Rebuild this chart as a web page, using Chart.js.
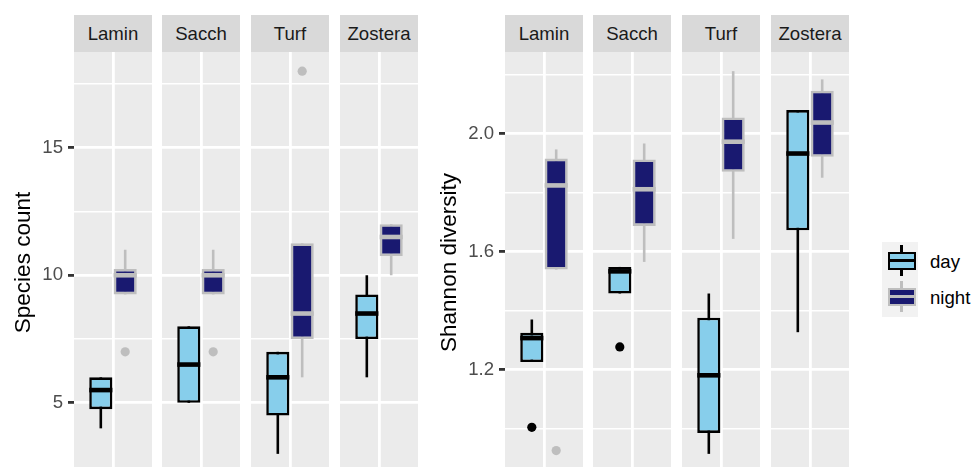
<!DOCTYPE html>
<html>
<head>
<meta charset="utf-8">
<script src="https://cdn.jsdelivr.net/npm/chart.js@4/dist/chart.umd.min.js"></script>
<style>
  html, body {
    margin: 0; padding: 0; background: #ffffff;
    width: 975px; height: 467px; overflow: hidden; position: relative;
    font-family: "Liberation Sans", Arial, sans-serif;
  }
  .strip {
    position: absolute; top: 15px; height: 37px; background: #D9D9D9;
    color: #1A1A1A; font-size: 18.6px; line-height: 37px; text-align: center;
  }
  canvas { position: absolute; top: 52px; }
  .legend-key { position: absolute; left: 882px; top: 242px; width: 36px; height: 75px; background: #F2F2F2; }
  .lg { position: absolute; box-sizing: border-box; }
  .legend-text { position: absolute; left: 930px; font-size: 18.6px; line-height: 18px; color: #000; white-space: nowrap; }
</style>
</head>
<body>
<script>
// Facet labels and fill groups
const sites = ['Lamin', 'Sacch', 'Turf', 'Zostera'];
const periods = ['day', 'night'];

// Box summaries per site: [lower whisker, Q1, median, Q3, upper whisker]
const countDay = [
  [4, 4.75, 5.5, 6, 6],
  [5, 5, 6.5, 8, 8],
  [3, 4.5, 6, 7, 7],
  [6, 7.5, 8.5, 9.25, 10]
];
const countNight = [
  [9.25, 9.25, 10, 10.25, 11],
  [9.25, 9.25, 10, 10.25, 11],
  [6, 7.5, 8.5, 11.25, 11.25],
  [10, 10.75, 11.5, 12, 12]
];
const countDayOutliers = [[], [], [], []];
const countNightOutliers = [[7], [7], [18], []];
const countTicks = [5, 10, 15];
const countMinorTicks = [7.5, 12.5, 17.5];

const shannonDay = [
  [1.226, 1.226, 1.307, 1.325, 1.37],
  [1.458, 1.458, 1.533, 1.548, 1.548],
  [0.915, 0.986, 1.181, 1.376, 1.458],
  [1.327, 1.672, 1.932, 2.079, 2.079]
];
const shannonNight = [
  [1.539, 1.539, 1.824, 1.915, 1.946],
  [1.565, 1.687, 1.811, 1.912, 1.966],
  [1.643, 1.870, 1.972, 2.054, 2.211],
  [1.850, 1.921, 2.037, 2.145, 2.183]
];
const shannonDayOutliers = [[1.005], [1.277], [], []];
const shannonNightOutliers = [[0.926], [], [], []];
const shannonTicks = [1.2, 1.6, 2.0];
const shannonMinorTicks = [1.0, 1.4, 1.8, 2.2];

// ---- styling ----
Chart.defaults.font.family = '"Liberation Sans", Arial, sans-serif';
const STYLE = {
  day:   { fill: '#87CEEB', line: '#000000' },
  night: { fill: '#191970', line: '#BEBEBE' }
};
const X_MIN = 0.4, X_MAX = 1.6; // one discrete slot with its padding
const DODGE = 0.375;            // width given to each fill group inside a facet
const BOX_FRACTION = 0.95;      // share of that width taken by the box
const LINE_W = 2.6;
const MEDIAN_W = 4.6;
const GRID_MAJOR = 2.8;
const GRID_MINOR = 1.4;
const FACET_W = 78;
const PANEL_H = 421;
const BOX_PX = DODGE * BOX_FRACTION * FACET_W / (X_MAX - X_MIN);

// Range of a panel: all whisker ends and outliers, padded by 5% each side
function panelRange(day, night, dayOut, nightOut) {
  const vals = [];
  [day, night].forEach(g => g.forEach(s => vals.push(s[0], s[4])));
  [dayOut, nightOut].forEach(g => g.forEach(o => vals.push(...o)));
  const lo = Math.min(...vals), hi = Math.max(...vals);
  const pad = (hi - lo) * 0.05;
  return [lo - pad, hi + pad];
}

const panels = [
  {
    title: 'Species count', origin: 0, facetLeft: [74, 162, 251, 340], titlePad: 10.7,
    day: countDay, night: countNight, dayOut: countDayOutliers, nightOut: countNightOutliers,
    ticks: countTicks, minor: countMinorTicks, fmt: v => String(v)
  },
  {
    title: 'Shannon diversity', origin: 430, facetLeft: [505, 593, 682, 771], titlePad: 6,
    day: shannonDay, night: shannonNight, dayOut: shannonDayOutliers, nightOut: shannonNightOutliers,
    ticks: shannonTicks, minor: shannonMinorTicks, fmt: v => v.toFixed(1)
  }
];

// Grey panel background behind the grid
const panelBackground = {
  id: 'panelBackground',
  beforeDraw(chart) {
    const { ctx, chartArea: a } = chart;
    ctx.save();
    ctx.fillStyle = '#EBEBEB';
    ctx.fillRect(a.left, a.top, a.right - a.left, a.bottom - a.top);
    ctx.restore();
  }
};

function facetDatasets(panel, i) {
  const datasets = [];
  periods.forEach((p, k) => {
    const s = panel[p][i];
    const st = STYLE[p];
    const x = 1 + (k === 0 ? -DODGE / 2 : DODGE / 2);
    const half = DODGE * BOX_FRACTION / 2;
    // whisker (the box covers its middle part)
    datasets.push({
      type: 'line', order: 3,
      data: [{ x: x, y: s[0] }, { x: x, y: s[4] }],
      borderColor: st.line, borderWidth: LINE_W, borderCapStyle: 'butt',
      pointRadius: 0, fill: false
    });
    // box Q1..Q3
    datasets.push({
      type: 'bar', order: 2,
      data: [{ x: x, y: [s[1], s[3]] }],
      backgroundColor: st.fill, borderColor: st.line, borderWidth: LINE_W,
      borderSkipped: false, grouped: false,
      barThickness: BOX_PX, inflateAmount: 0
    });
    // median
    datasets.push({
      type: 'line', order: 1,
      data: [{ x: x - half, y: s[2] }, { x: x + half, y: s[2] }],
      borderColor: st.line, borderWidth: MEDIAN_W, borderCapStyle: 'butt',
      pointRadius: 0, fill: false
    });
    // outliers
    datasets.push({
      type: 'scatter', order: 0,
      data: panel[p + 'Out'][i].map(v => ({ x: x, y: v })),
      pointRadius: 4.6, pointBackgroundColor: st.line, pointBorderWidth: 0,
      backgroundColor: st.line, borderColor: st.line
    });
  });
  return datasets;
}

panels.forEach(panel => {
  const [yMin, yMax] = panelRange(panel.day, panel.night, panel.dayOut, panel.nightOut);
  const allTicks = panel.ticks.concat(panel.minor).sort((a, b) => a - b);
  const isMajor = v => panel.ticks.includes(v);

  sites.forEach((site, i) => {
    const strip = document.createElement('div');
    strip.className = 'strip';
    strip.style.left = panel.facetLeft[i] + 'px';
    strip.style.width = FACET_W + 'px';
    strip.textContent = site;
    document.body.appendChild(strip);

    const withAxis = i === 0;
    const left = withAxis ? panel.origin : panel.facetLeft[i];
    const width = panel.facetLeft[i] + FACET_W - left;
    const axisW = panel.facetLeft[0] - panel.origin;

    const canvas = document.createElement('canvas');
    canvas.width = width; canvas.height = PANEL_H;
    canvas.style.left = left + 'px';
    canvas.style.width = width + 'px'; canvas.style.height = PANEL_H + 'px';
    document.body.appendChild(canvas);

    new Chart(canvas, {
      type: 'bar',
      data: { datasets: facetDatasets(panel, i) },
      plugins: [panelBackground],
      options: {
        responsive: false, animation: false, devicePixelRatio: 1,
        layout: { padding: 0, autoPadding: false },
        plugins: { legend: { display: false }, tooltip: { enabled: false } },
        scales: {
          x: {
            type: 'linear', min: X_MIN, max: X_MAX, offset: false,
            afterBuildTicks: a => { a.ticks = [{ value: 1 }]; },
            ticks: { display: false },
            grid: { color: '#FFFFFF', lineWidth: GRID_MAJOR, drawTicks: false, offset: false },
            border: { display: false }
          },
          y: {
            type: 'linear', min: yMin, max: yMax,
            afterBuildTicks: a => { a.ticks = allTicks.map(v => ({ value: v })); },
            afterFit: withAxis ? a => { a.width = axisW; a.paddingTop = 0; a.paddingBottom = 0; } : undefined,
            ticks: {
              display: withAxis, autoSkip: false, padding: 5,
              color: '#4D4D4D', font: { size: 18.6 },
              callback: v => isMajor(v) ? panel.fmt(v) : ''
            },
            grid: {
              color: '#FFFFFF',
              lineWidth: c => isMajor(c.tick.value) ? GRID_MAJOR : GRID_MINOR,
              drawTicks: withAxis, tickLength: 6,
              tickColor: c => isMajor(c.tick.value) ? '#333333' : 'rgba(0,0,0,0)',
              tickWidth: GRID_MAJOR
            },
            border: { display: false },
            title: {
              display: withAxis, text: panel.title, color: '#000000',
              font: { size: 22.5 }, padding: { top: panel.titlePad, bottom: 0 }
            }
          }
        }
      }
    });
  });
});

// Legend: boxplot keys for day / night
(function legend() {
  const key = document.createElement('div');
  key.className = 'legend-key';
  document.body.appendChild(key);
  const keys = [
    { p: 'day', top: 242 },
    { p: 'night', top: 278 }
  ];
  keys.forEach(k => {
    const st = STYLE[k.p];
    const add = (css) => {
      const d = document.createElement('div');
      d.className = 'lg';
      Object.assign(d.style, css);
      document.body.appendChild(d);
    };
    add({ left: '900.4px', top: (k.top + 3) + 'px', width: '2.6px', height: '31px', background: st.line });
    add({ left: '888px', top: (k.top + 9.5) + 'px', width: '27.5px', height: '18px',
          background: st.fill, border: '2.6px solid ' + st.line });
    add({ left: '888px', top: (k.top + 17.2) + 'px', width: '27.5px', height: '2.6px', background: st.line });
    const t = document.createElement('div');
    t.className = 'legend-text';
    t.style.top = (k.top + 10.5) + 'px';
    t.textContent = k.p;
    document.body.appendChild(t);
  });
})();
</script>
</body>
</html>
